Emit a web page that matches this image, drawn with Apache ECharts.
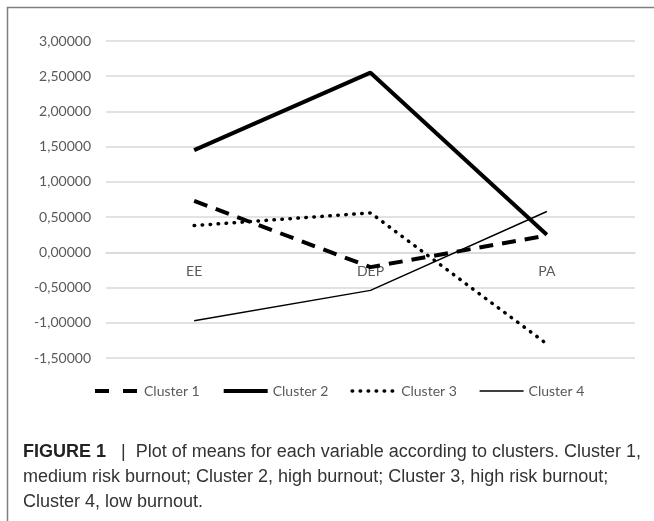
<!DOCTYPE html>
<html>
<head>
<meta charset="utf-8">
<script src="https://cdn.jsdelivr.net/npm/echarts@6/dist/echarts.min.js"></script>
<style>
  html, body { margin: 0; padding: 0; background: #fff; }
  #chart { width: 654px; height: 521px; }
</style>
</head>
<body>
<div id="chart"></div>
<script>
// categories and cluster means
var variables = ['EE', 'DEP', 'PA'];
var cluster1 = [0.73, -0.21, 0.24];
var cluster2 = [1.45, 2.55, 0.25];
var cluster3 = [0.38, 0.56, -1.30];
var cluster4 = [-0.97, -0.54, 0.58];
var seriesNames = ['Cluster 1', 'Cluster 2', 'Cluster 3', 'Cluster 4'];

var chart = echarts.init(document.getElementById('chart'));
var axisFont = 'Lato, "Open Sans", sans-serif';
var captionFont = '"Liberation Sans", Arial, sans-serif';

// y range of the plot, the category axis sits on zero (Excel style)
var yMin = -1.5, yMax = 3;
var gridTop = 41, gridBottom = 163, chartH = 521;
var plotH = chartH - gridTop - gridBottom;
var zeroOffset = -plotH * (0 - yMin) / (yMax - yMin);

// one line style per cluster, used by the series and its legend item
var styles = [
    { color: '#000', width: 4, type: [14, 9] },
    { color: '#000', width: 4, type: 'solid' },
    { color: '#000', width: 3.5, type: [0.5, 7.5], cap: 'round' },
    { color: '#000', width: 1.5, type: 'solid' }
];
var legendStyles = [
    { color: '#000', width: 4, type: [14, 14], dashOffset: 0 },
    { color: '#000', width: 4, type: 'solid' },
    { color: '#000', width: 3.5, type: [0.5, 7.5], cap: 'round' },
    { color: '#000', width: 1.5, type: 'solid' }
];

function lineSeries(name, data, style) {
    return {
        name: name,
        type: 'line',
        data: data,
        symbol: 'none',
        lineStyle: style,
        itemStyle: { color: '#000' },
        emphasis: { disabled: true },
        animation: false
    };
}

var allData = [cluster1, cluster2, cluster3, cluster4];
var series = [];
var legendData = [];
for (var i = 0; i < seriesNames.length; i++) {
    series.push(lineSeries(seriesNames[i], allData[i], styles[i]));
    legendData.push({
        name: seriesNames[i],
        lineStyle: legendStyles[i],
        itemStyle: { opacity: 0 }
    });
}

var option = {
    backgroundColor: '#fff',
    animation: false,
    grid: { left: 106, right: 19, top: gridTop, bottom: gridBottom },
    xAxis: {
        type: 'category',
        data: variables,
        boundaryGap: true,
        position: 'bottom',
        offset: zeroOffset,
        axisLine: { show: true, onZero: false, lineStyle: { color: '#d9d9d9', width: 1.5 } },
        axisTick: { show: false },
        axisLabel: { color: '#595959', fontSize: 14, fontFamily: axisFont, margin: 12 },
        splitLine: { show: false }
    },
    yAxis: {
        type: 'value',
        min: yMin,
        max: yMax,
        interval: 0.5,
        axisLine: { show: false },
        axisTick: { show: false },
        axisLabel: {
            color: '#595959', fontSize: 14, fontFamily: axisFont, margin: 15,
            formatter: function (v) { return v.toFixed(5).replace('.', ','); }
        },
        splitLine: { lineStyle: { color: '#d9d9d9', width: 1.5 } }
    },
    legend: {
        left: 88,
        top: 379,
        itemWidth: 44,
        itemHeight: 14,
        itemGap: 22,
        textStyle: { color: '#595959', fontSize: 14, fontFamily: axisFont },
        data: legendData
    },
    series: series,
    graphic: [
        {
            type: 'polyline',
            shape: { points: [[7.5, 521], [7.5, 7.5], [654, 7.5]] },
            style: { stroke: '#7f7f7f', lineWidth: 1.5, fill: null },
            silent: true
        },
        {
            type: 'text',
            left: 23,
            top: 440,
            style: {
                text: '{b|FIGURE 1}   |  Plot of means for each variable according to clusters. Cluster 1,\n' +
                      'medium risk burnout; Cluster 2, high burnout; Cluster 3, high risk burnout;\n' +
                      'Cluster 4, low burnout.',
                fill: '#333',
                font: '18px ' + captionFont,
                lineHeight: 25,
                rich: {
                    b: { fontWeight: 'bold', fontSize: 18, fontFamily: captionFont, fill: '#222' }
                }
            }
        }
    ]
};

chart.setOption(option);
</script>
</body>
</html>
